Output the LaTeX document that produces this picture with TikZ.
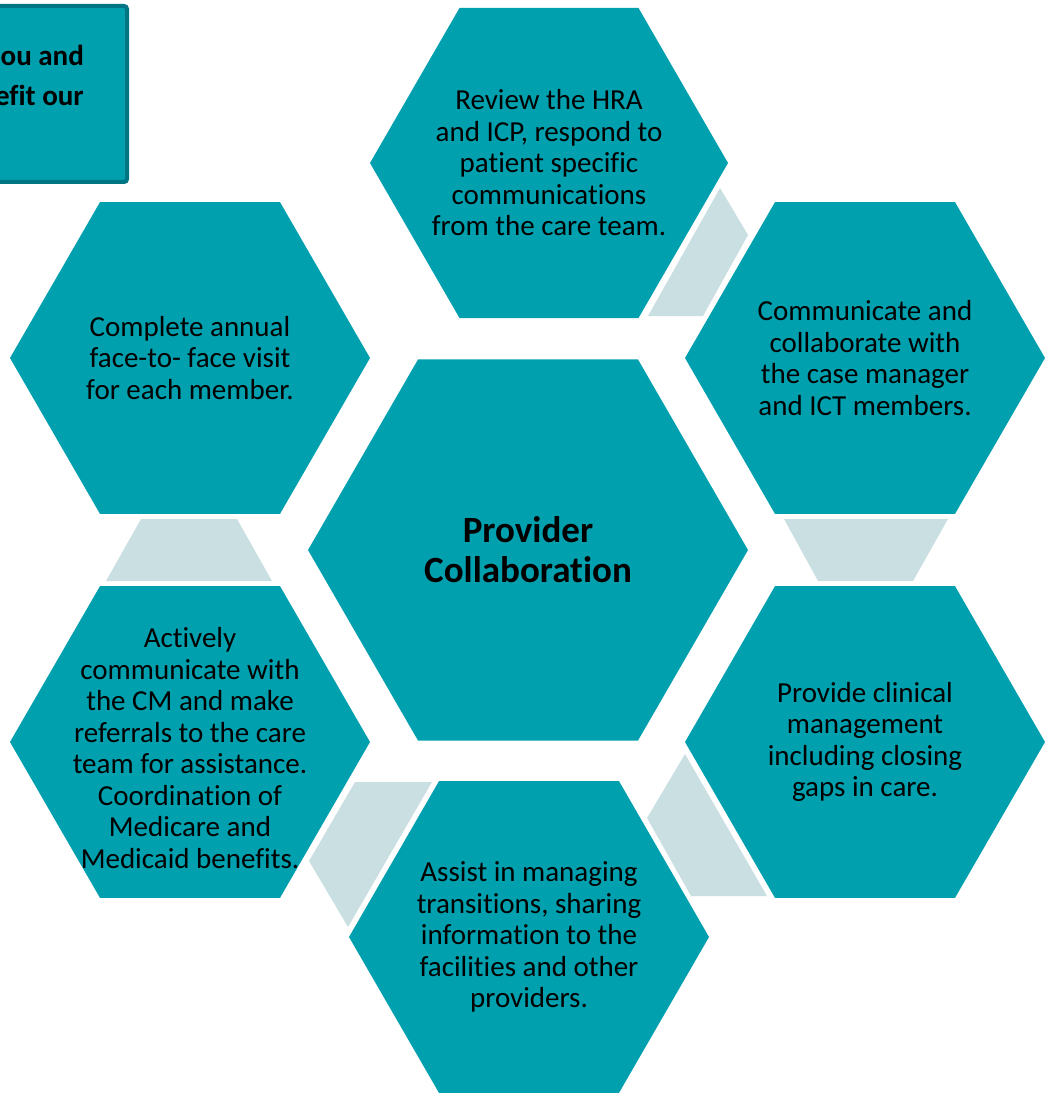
\documentclass[tikz,border=0pt]{standalone}
\usepackage{fontspec}
\setmainfont{Carlito}[Ligatures=NoCommon]
\usepackage{xcolor}
\usetikzlibrary{shapes.geometric}

\definecolor{hexteal}{HTML}{00A0AF}
\definecolor{hexedge}{HTML}{007684}
\definecolor{linkgray}{HTML}{CADFE2}

\begin{document}
\begin{tikzpicture}[x=1pt,y=-1pt,
        hexa/.style={regular polygon, regular polygon sides=6, fill=hexteal, inner sep=0pt,
            outer sep=0pt, minimum size=360pt},
        hexbig/.style={hexa, minimum size=440pt},
        hextext/.style={align=center, inner sep=0pt, font=\fontsize{29}{31.5}\selectfont},
        link/.style={fill=linkgray},
        infobox/.style={draw=hexedge, line width=4pt, fill=hexteal, rounded corners=3pt}]
        \clip (0,0) rectangle (1045,1094);

        % hexagons
        \node[hexbig] (centre) at (528,550) {};
        \node[hexa, minimum size=358pt] (hTop) at (549,163) {};
        \node[hexa] (hTopRight) at (865,358) {};
        \node[hexa] (hRight) at (865,742) {};
        \node[hexa] (hBottom) at (529,937) {};
        \node[hexa] (hBotLeft) at (190,742) {};
        \node[hexa] (hTopLeft) at (190,358) {};

        % texts
        \node[hextext, font=\fontsize{37}{40}\selectfont\bfseries] (tCentre) at (centre) {Provider\\Collaboration};
        \node[hextext] (tTop) at (hTop) {Review the HRA\\and ICP, respond to\\patient specific\\communications\\from the care team.};
        \node[hextext] (tTopRight) at (hTopRight) {Communicate and\\collaborate with\\the case manager\\and ICT members.};
        \node[hextext] (tRight) at (hRight) {Provide clinical\\management\\including closing\\gaps in care.};
        \node[hextext] (tBottom) at (hBottom) {Assist in managing\\transitions, sharing\\information to the\\facilities and other\\providers.};
        \node[hextext] (tBotLeft) at (190,748) {Actively\\communicate with\\the CM and make\\referrals to the care\\team for assistance.\\Coordination of\\Medicare and\\Medicaid benefits.};
        \node[hextext] (tTopLeft) at (hTopLeft) {Complete annual\\face-to- face visit\\for each member.};

        % links between hexagons
        \fill[link] (720,188) -- (748,235) -- (703,316) -- (648,316) -- cycle;
        \fill[link] (784,519) -- (948,519) -- (913,581) -- (818,581) -- cycle;
        \fill[link] (685,754) -- (647,818) -- (691,896) -- (767,896) -- cycle;
        \fill[link] (355,782) -- (432,782) -- (348,927) -- (309,861) -- cycle;
        \fill[link] (141,519) -- (237,519) -- (272,581) -- (106,581) -- cycle;

        % box at the top left
        \node[infobox, minimum width=220pt, minimum height=176pt, anchor=north east] (intro) at (129,4) {};
        \node[anchor=east, align=right, inner sep=0pt, font=\fontsize{29}{40}\selectfont\bfseries] (introText) at (84,75) {ou and\\efit our};
    \end{tikzpicture}
\end{document}
